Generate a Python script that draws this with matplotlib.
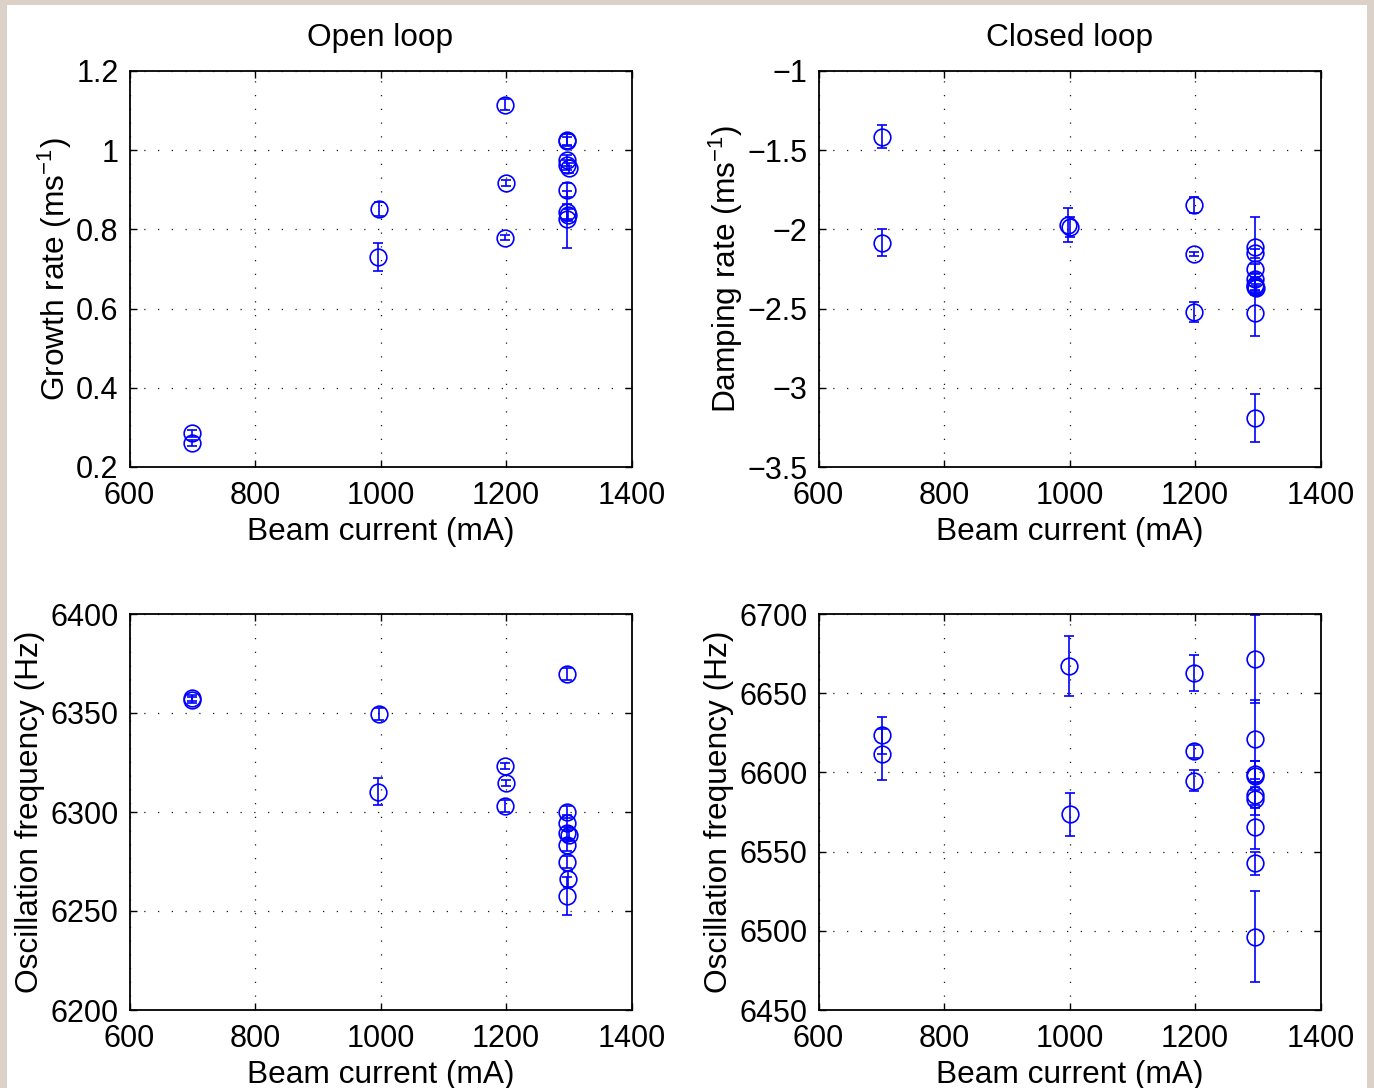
import matplotlib
matplotlib.use('Agg')
import matplotlib.pyplot as plt
from matplotlib.patches import Rectangle
from matplotlib.ticker import FuncFormatter, MultipleLocator

plt.rcParams['font.family'] = ['Liberation Sans', 'DejaVu Sans']
plt.rcParams['mathtext.fontset'] = 'custom'
plt.rcParams['mathtext.rm'] = 'Liberation Sans'
plt.rcParams['mathtext.it'] = 'Liberation Sans'
plt.rcParams['mathtext.default'] = 'regular'

#DATA
# open loop (growth rate + frequency share the same shots)
current_ol = [699, 700, 998, 996, 1198, 1200, 1198,
              1297, 1298, 1298, 1298, 1300, 1298, 1298, 1299, 1298]
growth_ol = [0.285, 0.261, 0.851, 0.731, 1.115, 0.918, 0.779,
             1.027, 1.022, 0.974, 0.963, 0.955, 0.900, 0.845, 0.836, 0.826]
growth_ol_err = [0.008, 0.008, 0.017, 0.035, 0.014, 0.008, 0.006,
                 0.015, 0.012, 0.015, 0.012, 0.012, 0.017, 0.020, 0.015, 0.072]
freq_ol = [6357.7, 6356.8, 6349.3, 6310.3, 6323.2, 6314.5, 6303.2,
           6369.7, 6300.2, 6294.6, 6289.6, 6288.2, 6283.3, 6274.6, 6266.0, 6257.7]
freq_ol_err = [1.5, 1.5, 3, 7, 1.5, 1.5, 3,
               3, 3, 4, 3, 3, 3, 3, 4, 9.5]

# closed loop
current_cl = [701, 701, 997, 1000, 1199, 1199, 1198,
              1296, 1296, 1296, 1296, 1296, 1296, 1297, 1296, 1296]
damp_cl = [-1.415, -2.084, -1.972, -1.985, -1.846, -2.155, -2.521,
           -2.109, -2.151, -2.250, -2.315, -2.351, -2.366, -2.372, -2.530, -3.193]
damp_cl_err = [0.074, 0.086, 0.110, 0.066, 0.048, 0.015, 0.063,
               0.190, 0.030, 0.030, 0.040, 0.030, 0.050, 0.030, 0.140, 0.152]
current_cl_f = [701, 701, 999, 1000, 1199, 1199, 1198,
                1296, 1296, 1296, 1296, 1296, 1296, 1296, 1296, 1296]
freq_cl = [6623.4, 6611.4, 6667.2, 6573.5, 6662.5, 6613.3, 6594.8,
           6671.6, 6620.9, 6599.0, 6598.0, 6585.7, 6583.0, 6565.7, 6542.6, 6496.3]
freq_cl_err = [11.5, 16, 19, 13.4, 11.4, 4, 6.4,
               28, 25, 8, 9, 8, 10, 14, 7.3, 28.6]

xticks = [600, 800, 1000, 1200, 1400]

W, H = 1374, 1088
fig = plt.figure(figsize=(W / 100, H / 100), dpi=100)
fig.patch.set_facecolor('#dcd1c9')
# white panel inside the beige frame
fig.patches.append(Rectangle((7 / W, 0), (1367 - 7) / W, (H - 5) / H,
                             transform=fig.transFigure, facecolor='white',
                             edgecolor='none', zorder=-10))

fmt = FuncFormatter(lambda v, pos: ('%g' % round(v, 6)).replace('-', '\u2212'))


def make_ax(left, top, right, bottom):
    ax = fig.add_axes([left / W, 1 - bottom / H, (right - left) / W, (bottom - top) / H])
    ax.set_xlim(600, 1400)
    ax.set_xticks(xticks)
    ax.xaxis.set_major_formatter(fmt)
    ax.yaxis.set_major_formatter(fmt)
    ax.tick_params(direction='in', length=5, width=1, top=True, right=True,
                   labelsize=22)
    ax.tick_params(axis='x', pad=10)
    ax.tick_params(axis='y', pad=8)
    for s in ax.spines.values():
        s.set_linewidth(1.3)
    ax.grid(True, color='0.1', linestyle=(0, (1, 10)), linewidth=0.9)
    ax.set_axisbelow(True)
    return ax


def draw(ax, x, y, err):
    ax.errorbar(x, y, yerr=err, fmt='o', mfc='none', mec='#0000ff', ms=12,
                mew=1.2, ecolor='#0000ff', elinewidth=1.2, capsize=3.5,
                capthick=1.2)


# Growth rate, open loop
ax1 = make_ax(129.5, 71, 631.5, 467)
draw(ax1, current_ol, growth_ol, growth_ol_err)
ax1.set_ylim(0.2, 1.2)
ax1.yaxis.set_major_locator(MultipleLocator(0.2))
ax1.set_title('Open loop', fontsize=22.8, pad=18)
ax1.set_xlabel('Beam current (mA)', fontsize=22.8, labelpad=4.5)
ax1.set_ylabel('Growth rate (ms$^{\u2212 1}$)', fontsize=22.8, labelpad=1)

# Damping rate, closed loop
ax2 = make_ax(818.5, 71, 1320.5, 467)
draw(ax2, current_cl, damp_cl, damp_cl_err)
ax2.set_ylim(-3.5, -1)
ax2.yaxis.set_major_locator(MultipleLocator(0.5))
ax2.set_title('Closed loop', fontsize=22.8, pad=18)
ax2.set_xlabel('Beam current (mA)', fontsize=22.8, labelpad=4.5)
ax2.set_ylabel('Damping rate (ms$^{\u2212 1}$)', fontsize=22.8, labelpad=1.5)

# Frequency, open loop
ax3 = make_ax(129.5, 614, 631.5, 1010)
draw(ax3, current_ol, freq_ol, freq_ol_err)
ax3.set_ylim(6200, 6400)
ax3.yaxis.set_major_locator(MultipleLocator(50))
ax3.set_xlabel('Beam current (mA)', fontsize=22.8, labelpad=4.5)
ax3.set_ylabel('Oscillation frequency (Hz)', fontsize=22.8, labelpad=4)

# Frequency, closed loop
ax4 = make_ax(818.5, 614, 1320.5, 1010)
draw(ax4, current_cl_f, freq_cl, freq_cl_err)
ax4.set_ylim(6450, 6700)
ax4.yaxis.set_major_locator(MultipleLocator(50))
ax4.set_xlabel('Beam current (mA)', fontsize=22.8, labelpad=4.5)
ax4.set_ylabel('Oscillation frequency (Hz)', fontsize=22.8, labelpad=4)

fig.savefig('out.png', dpi=100, facecolor=fig.get_facecolor())
